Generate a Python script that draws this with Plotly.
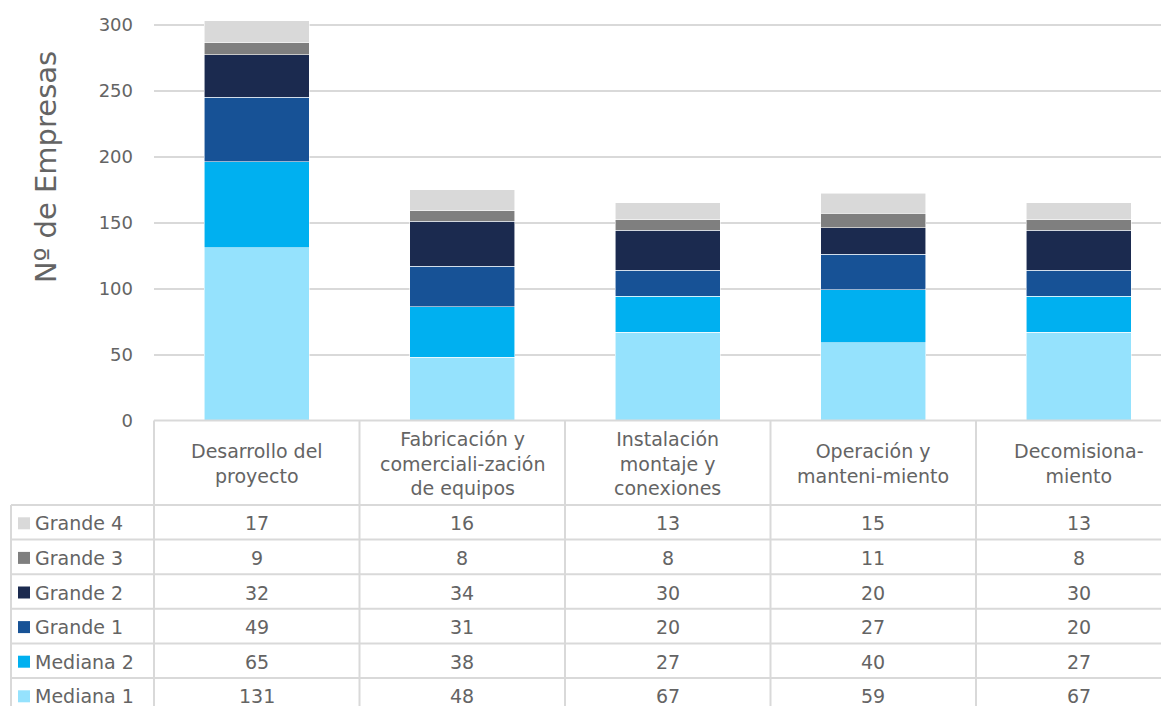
import plotly.graph_objects as go

# ---------------- data ----------------
categories = [
    "Desarrollo del<br>proyecto",
    "Fabricación y<br>comerciali-zación<br>de equipos",
    "Instalación<br>montaje y<br>conexiones",
    "Operación y<br>manteni-miento",
    "Decomisiona-<br>miento",
]
series_names = ["Mediana 1", "Mediana 2", "Grande 1", "Grande 2", "Grande 3", "Grande 4"]
mediana_1 = [131, 48, 67, 59, 67]
mediana_2 = [65, 38, 27, 40, 27]
grande_1 = [49, 31, 20, 27, 20]
grande_2 = [32, 34, 30, 20, 30]
grande_3 = [9, 8, 8, 11, 8]
grande_4 = [17, 16, 13, 15, 13]
y_ticks = [0, 50, 100, 150, 200, 250, 300]
y_title = "Nº de Empresas"

series_values = [mediana_1, mediana_2, grande_1, grande_2, grande_3, grande_4]
series_colors = ["#95E2FD", "#00B0F0", "#175296", "#1B2A4F", "#7F7F7F", "#D9D9D9"]

# ---------------- geometry (pixels, in screenshot coordinates) ----------------
OFF = 8                      # page body margin
W, H = 1169 - OFF, 706 - OFF
FONT = "DejaVu Sans"
TXT = "#646464"
GRID = "#D9D9D9"
X0 = 154.0          # plot left
CW = 205.5          # category width
Y0 = 420.5          # value 0
PPU = 396.0 / 300   # pixels per unit
YTOP = 12.0
ROW_TOP = 505.0
ROW_H = 34.6
LEG_LEFT = 11.0
FS = 19


def px(x):
    return (x - OFF) / W


def py(y):
    return 1 - (y - OFF) / H


fig = go.Figure()
xs = list(range(len(categories)))
for name, vals, col in zip(series_names, series_values, series_colors):
    fig.add_trace(go.Bar(
        x=xs, y=vals, name=name, width=0.51,
        marker=dict(color=col, line=dict(color="rgba(255,255,255,0.7)", width=0.8)),
        showlegend=False,
    ))

shapes = []
line = dict(color=GRID, width=2)
shapes.append(dict(type="line", xref="paper", yref="paper", x0=px(X0), x1=1, y0=py(Y0), y1=py(Y0), line=line))
for k in range(len(categories)):
    xx = X0 + k * CW
    shapes.append(dict(type="line", xref="paper", yref="paper", x0=px(xx), x1=px(xx), y0=py(Y0), y1=0, line=line))
shapes.append(dict(type="line", xref="paper", yref="paper", x0=px(LEG_LEFT), x1=px(LEG_LEFT), y0=py(ROW_TOP), y1=0, line=line))
n_rows = len(series_names)
for r in range(n_rows):
    yy = ROW_TOP + r * ROW_H
    shapes.append(dict(type="line", xref="paper", yref="paper", x0=px(LEG_LEFT), x1=1, y0=py(yy), y1=py(yy), line=line))

annotations = []
annotations.append(dict(text=y_title, xref="paper", yref="paper", x=px(46), y=py(167),
                        showarrow=False, textangle=-90, font=dict(family=FONT, size=29, color=TXT),
                        xanchor="center", yanchor="middle"))
for k, c in enumerate(categories):
    annotations.append(dict(text=c, xref="paper", yref="paper", x=px(X0 + (k + 0.5) * CW), y=py(463),
                            showarrow=False, font=dict(family=FONT, size=FS, color=TXT),
                            xanchor="center", yanchor="middle", align="center"))
rev = list(zip(series_names, series_values, series_colors))[::-1]
for r, (name, vals, col) in enumerate(rev):
    yc = ROW_TOP + (r + 0.5) * ROW_H
    shapes.append(dict(type="rect", xref="paper", yref="paper", x0=px(18), x1=px(30),
                       y0=py(yc - 5), y1=py(yc + 7), fillcolor=col, line=dict(width=0)))
    annotations.append(dict(text=name, xref="paper", yref="paper", x=px(33), y=py(yc + 1),
                            showarrow=False, font=dict(family=FONT, size=FS, color=TXT),
                            xanchor="left", yanchor="middle"))
    for k, v in enumerate(vals):
        annotations.append(dict(text=str(v), xref="paper", yref="paper", x=px(X0 + (k + 0.5) * CW), y=py(yc + 1),
                                showarrow=False, font=dict(family=FONT, size=FS, color=TXT),
                                xanchor="center", yanchor="middle"))

fig.update_layout(
    width=W, height=H, margin=dict(l=0, r=0, t=0, b=0, autoexpand=False),
    paper_bgcolor="white", plot_bgcolor="white",
    barmode="stack",
    xaxis=dict(domain=[px(X0), 1], range=[-0.5, -0.5 + (1169 - X0) / CW], automargin=False,
               showticklabels=False, showgrid=False, zeroline=False, showline=False),
    yaxis=dict(domain=[py(Y0), py(YTOP)], range=[0, (Y0 - YTOP) / PPU], automargin=False,
               tickvals=y_ticks, showgrid=True, gridcolor=GRID, gridwidth=2,
               zeroline=False, showline=False, ticks="", ticklabelstandoff=20,
               tickfont=dict(family=FONT, size=18, color=TXT)),
    shapes=shapes, annotations=annotations,
    font=dict(family=FONT),
)

fig.write_html("out.html")
